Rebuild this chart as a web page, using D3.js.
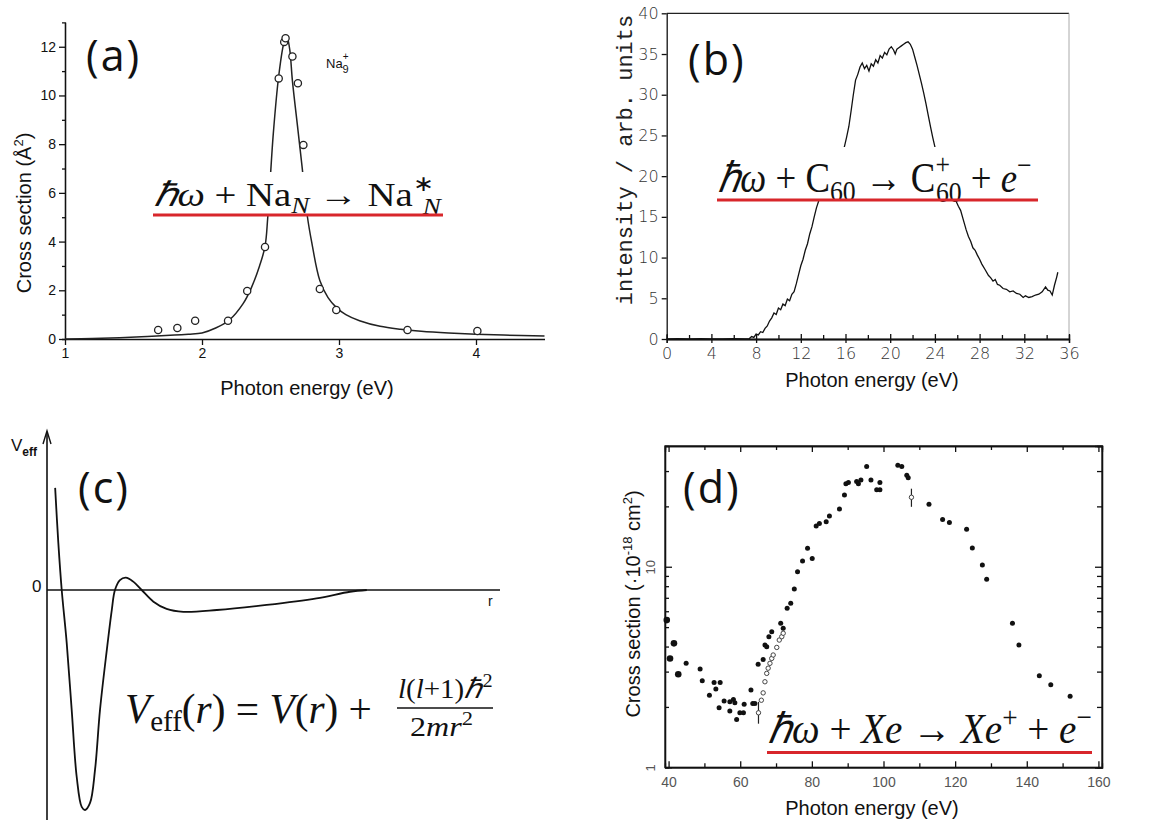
<!DOCTYPE html>
<html>
<head>
<meta charset="utf-8">
<script src="https://cdn.jsdelivr.net/npm/d3@7"></script>
<style>
  body { margin: 0; background: #fff; }
  svg { display: block; }
</style>
</head>
<body>
<div id="chart"></div>
<script>
/* global d3 */

// ---- data ----
// (a) Na cluster photoabsorption
const aCurveE = [1.0, 1.2, 1.4, 1.6, 1.8, 1.9, 2.0, 2.1, 2.2, 2.3, 2.36, 2.42, 2.46, 2.48, 2.52, 2.56, 2.60, 2.62, 2.64, 2.66, 2.70, 2.73, 2.77, 2.80, 2.86, 2.92, 2.98, 3.05, 3.15, 3.3, 3.45, 3.6, 3.8, 4.0, 4.2, 4.5]
const aCurveV = [0, 0.02, 0.05, 0.1, 0.16, 0.2, 0.25, 0.45, 0.78, 1.45, 2.1, 3.0, 3.8, 5.0, 8.4, 10.8, 12.2, 12.4, 11.9, 10.6, 8.6, 7.1, 5.0, 4.0, 2.4, 1.7, 1.3, 1.0, 0.75, 0.52, 0.4, 0.32, 0.25, 0.2, 0.16, 0.12]
const aPointE = [1.68, 1.82, 1.95, 2.19, 2.33, 2.46, 2.56, 2.60, 2.61, 2.66, 2.70, 2.74, 2.86, 2.98, 3.50, 4.01]
const aPointV = [0.37, 0.45, 0.75, 0.75, 1.97, 3.78, 10.7, 12.2, 12.35, 11.6, 10.5, 7.97, 2.05, 1.19, 0.37, 0.33]
const aTicksX = [1, 2, 3, 4]
const aTicksY = [0, 2, 4, 6, 8, 10, 12]
const aMinorY = [1, 3, 5, 7, 9, 11]

// (b) C60 photoionisation
const bE = [0, 1, 2, 3, 4, 5, 6, 7, 7.4, 7.6, 7.8, 8.0, 8.2, 8.4, 8.6, 8.8, 9.0, 9.2, 9.4, 9.6, 9.8, 10.0, 10.2, 10.4, 10.6, 10.8, 11.0, 11.2, 11.4, 11.6, 11.8, 12.0, 12.2, 12.4, 12.6, 12.8, 13.0, 13.2, 13.4, 13.8, 14.3, 14.8, 15.4, 15.9, 16.1, 16.3, 16.5, 16.7, 16.9, 17.1, 17.3, 17.5, 17.7, 17.9, 18.1, 18.3, 18.5, 18.7, 18.9, 19.1, 19.3, 19.5, 19.7, 19.9, 20.1, 20.3, 20.45, 20.6, 20.8, 21.0, 21.2, 21.4, 21.6, 21.8, 22.0, 22.2, 22.4, 22.6, 22.8, 23.0, 23.2, 23.4, 23.6, 23.8, 24.0, 24.5, 25.0, 25.6, 26.1, 26.3, 26.55, 26.8, 27.0, 27.2, 27.4, 27.6, 27.8, 28.0, 28.2, 28.5, 28.8, 29.0, 29.2, 29.4, 29.6, 29.8, 30.1, 30.4, 30.7, 31.0, 31.3, 31.6, 31.9, 32.1, 32.4, 32.7, 33.0, 33.3, 33.6, 33.9, 34.1, 34.3, 34.5, 34.7, 34.9, 35.0]
const bI = [0, 0.05, 0, 0.05, 0, 0, 0.05, 0, 0.05, 0.3, 0.2, 0.6, 0.5, 0.9, 0.8, 1.3, 1.6, 2.2, 2.6, 3.2, 3.0, 3.8, 3.6, 4.3, 4.1, 4.9, 4.7, 5.5, 5.8, 6.8, 7.9, 9.0, 9.8, 10.9, 11.7, 12.9, 13.8, 15.0, 16.1, 17.8, 19.5, 21.0, 22.3, 23.6, 24.8, 26.1, 28.0, 30.0, 31.8, 32.5, 33.4, 33.9, 33.2, 33.6, 32.9, 33.8, 33.5, 34.3, 33.9, 34.8, 34.5, 35.2, 34.9, 35.6, 35.9, 35.5, 35.0, 35.6, 35.8, 36.0, 36.2, 36.4, 36.5, 36.2, 35.6, 34.6, 33.6, 32.5, 31.4, 30.2, 28.9, 27.5, 26.1, 24.8, 23.6, 21.6, 19.7, 17.8, 16.3, 15.8, 14.6, 13.4, 12.6, 12.0, 11.2, 10.9, 10.3, 9.8, 9.2, 8.5, 7.8, 7.5, 7.1, 7.3, 6.7, 6.6, 6.2, 6.1, 5.8, 5.9, 5.6, 5.5, 5.1, 5.3, 5.1, 5.2, 5.4, 5.5, 5.8, 6.4, 6.0, 5.9, 5.4, 6.6, 7.6, 8.2]
const bTicksX = [0, 4, 8, 12, 16, 20, 24, 28, 32, 36]
const bMinorX = [2, 6, 10, 14, 18, 22, 26, 30, 34]
const bTicksY = [0, 5, 10, 15, 20, 25, 30, 35, 40]

// (c) effective potential (arbitrary units)
const cR = [1.8, 2.5, 3.25, 4.35, 5.45, 6.56, 7.66, 8.4, 9.5, 10.6, 11.7, 13.2, 14.3, 15.0, 16.1, 17.4, 19.05, 20.9, 23.5, 26.4, 30.1, 37.5, 48.5, 59.5, 66.9, 70.6]
const cV = [46.4, 21.4, 0, -24, -54.5, -85, -98.6, -100, -96.8, -81.8, -54.5, -27.3, -9.1, 0, 4.5, 5.6, 3.8, 0, -5.3, -8.6, -9.9, -9.1, -6.8, -3.8, -0.8, 0]

// (d) Xe 4d photoionisation, filled points
const dE = [39.5, 40.4, 41.5, 42.7, 44.9, 48.8, 49.4, 51.4, 52.7, 53.2, 54.4, 54.1, 55.5, 57.1, 57.1, 58.1, 58.5, 59.0, 59.9, 60.9, 61.1, 63.0, 63.5, 64.1, 65.0, 66.4, 66.9, 67.4, 68.0, 68.8, 71.3, 72.0, 73.1, 74.1, 75.1, 76.0, 77.4, 78.8, 80.1, 81.2, 82.1, 84.0, 84.9, 87.7, 89.1, 89.5, 90.2, 92.5, 93.0, 93.7, 95.3, 96.5, 98.1, 99.0, 99.0, 104.0, 105.1, 106.5, 106.9, 112.7, 116.5, 118.4, 123.2, 124.8, 127.6, 128.8, 136.0, 137.8, 143.5, 146.7, 152.1]
const dS = [5.42, 3.49, 4.15, 2.91, 3.30, 3.09, 2.70, 2.29, 2.65, 2.46, 2.65, 1.98, 2.14, 1.91, 2.12, 2.18, 2.10, 1.73, 1.87, 1.87, 2.06, 2.43, 2.08, 2.08, 3.26, 3.45, 4.07, 3.99, 4.48, 4.74, 5.22, 4.93, 6.21, 6.58, 7.75, 9.44, 10.67, 12.35, 11.0, 15.96, 16.45, 16.76, 17.9, 19.4, 22.8, 25.9, 26.3, 26.6, 25.9, 27.1, 31.6, 27.1, 24.2, 26.3, 24.2, 32.1, 31.6, 28.6, 27.8, 20.5, 17.2, 16.6, 15.4, 12.4, 10.2, 8.66, 5.22, 4.07, 2.86, 2.58, 2.26]
// open points
const dOpenE = [65.1, 65.9, 66.4, 66.9, 67.4, 67.8, 68.3, 68.8, 69.2, 70.2, 70.9, 71.6, 72.0, 107.8]
const dOpenS = [1.87, 2.16, 2.35, 2.67, 2.94, 3.12, 3.30, 3.49, 3.63, 3.96, 4.31, 4.48, 4.66, 22.2]
// error bars
const dErrE = [65.1, 107.8]
const dErrLo = [1.65, 19.9]
const dErrHi = [2.12, 24.5]
const dTicksX = [40, 60, 80, 100, 120, 140, 160]
const dMinorX = [50, 70, 90, 110, 130, 150]
const dTicksY = [1, 10]
const dMinorY = [2, 3, 4, 5, 6, 7, 8, 9, 20, 30]

// ---- canvas ----
const width = 1172,
  height = 827
const sans = 'Liberation Sans, Arial, sans-serif'
const serif = '"Liberation Serif", "Times New Roman", Times, serif'
const red = '#d8262b'

let svg = d3.select('#chart')
  .append('svg')
  .attr('width', width)
  .attr('height', height)
  .style('background', '#fff')

// formula text squeezed to fit between x0 and x1
let formula = (g, parts, x0, x1, baseline, size) => {
  const t = g.append('text')
    .style('font-family', serif)
    .attr('font-size', size)
    .attr('fill', '#111')
  parts.forEach(p => {
    t.append('tspan')
      .text(p.t)
      .attr('font-style', p.i ? 'italic' : null)
      .attr('font-size', p.s ? size * p.s : null)
      .attr('dx', p.dx || null)
      .attr('dy', p.dy || null)
  })
  const bb = t.node().getBBox()
  const sx = (x1 - x0) / bb.width
  t.attr('transform', `translate(${x0 - bb.x * sx},${baseline}) scale(${sx},1)`)
  return t
}

let styleAxis = (g, size, color) => {
  g.selectAll('text')
    .attr('font-family', sans)
    .attr('font-size', size)
    .attr('fill', color)
  g.selectAll('line, path').attr('stroke', '#111').attr('stroke-width', 1.3)
}

let panelLabel = (txt, x, y) => {
  svg.append('text')
    .attr('x', x).attr('y', y)
    .attr('font-family', 'Open Sans, sans-serif')
    .attr('font-size', 43)
    .attr('letter-spacing', 2)
    .attr('fill', '#111')
    .text(txt)
}

// ---------- (a) ----------
const aX = d3.scaleLinear().domain([1, 4.5]).range([65, 544.5])
const aY = d3.scaleLinear().domain([0, 13]).range([339, 22.4])
const ga = svg.append('g')

ga.append('g')
  .attr('transform', `translate(0,${aY(0)})`)
  .call(d3.axisBottom(aX).tickValues(aTicksX).tickSize(6).tickSizeOuter(0).tickFormat(d3.format('d')))
  .call(g => styleAxis(g, 14, '#111'))
ga.append('g')
  .attr('transform', `translate(${aX(1)},0)`)
  .call(d3.axisLeft(aY).tickValues(aTicksY).tickSize(6).tickSizeOuter(0))
  .call(g => styleAxis(g, 14, '#111'))
ga.append('g')
  .attr('transform', `translate(${aX(1)},0)`)
  .call(d3.axisLeft(aY).tickValues(aMinorY).tickSize(3).tickFormat(''))
  .call(g => styleAxis(g, 14, '#111'))

ga.append('path')
  .datum(aCurveE.map((e, i) => [e, aCurveV[i]]))
  .attr('fill', 'none')
  .attr('stroke', '#222')
  .attr('stroke-width', 1.5)
  .attr('d', d3.line().x(d => aX(d[0])).y(d => aY(d[1])).curve(d3.curveCatmullRom))

ga.selectAll('circle')
  .data(aPointE)
  .enter()
  .append('circle')
  .attr('cx', d => aX(d))
  .attr('cy', (d, i) => aY(aPointV[i]))
  .attr('r', 3.6)
  .attr('fill', '#fff')
  .attr('stroke', '#222')
  .attr('stroke-width', 1.3)

ga.append('text')
  .attr('transform', 'translate(31,213) rotate(-90)')
  .attr('text-anchor', 'middle')
  .attr('font-family', sans).attr('font-size', 20).attr('fill', '#111')
  .call(t => {
    t.append('tspan').text('Cross section (Å')
    t.append('tspan').text('2').attr('font-size', 13).attr('dy', -8)
    t.append('tspan').text(')').attr('dy', 8)
  })
ga.append('text')
  .attr('x', 307).attr('y', 395)
  .attr('text-anchor', 'middle')
  .attr('font-family', sans).attr('font-size', 20).attr('fill', '#111')
  .text('Photon energy (eV)')

ga.append('text')
  .attr('x', 326).attr('y', 68)
  .attr('font-family', sans).attr('font-size', 13).attr('fill', '#111')
  .call(t => {
    t.append('tspan').text('Na')
    t.append('tspan').text('+').attr('font-size', 10).attr('dy', -8)
    t.append('tspan').text('9').attr('font-size', 11).attr('dx', -6).attr('dy', 13)
  })

ga.append('rect').attr('x', 150).attr('y', 172).attr('width', 296).attr('height', 42).attr('fill', '#fff')
formula(ga, [
  { t: 'ℏω', i: 1 }, { t: ' + ' }, { t: 'Na' },
  { t: 'N', i: 1, s: 0.7, dy: 7 }, { t: ' → ', dy: -7 }, { t: 'Na' },
  { t: '∗', s: 0.65, dy: -15 }, { t: 'N', i: 1, s: 0.7, dx: -10, dy: 23 }
], 154, 442, 206, 34)
ga.append('line')
  .attr('x1', 153).attr('x2', 443).attr('y1', 215).attr('y2', 215)
  .attr('stroke', red).attr('stroke-width', 3)
panelLabel('(a)', 86, 71)

// ---------- (b) ----------
const bX = d3.scaleLinear().domain([0, 36]).range([666.7, 1069])
const bY = d3.scaleLinear().domain([0, 40]).range([339, 13.3])
const gb = svg.append('g')

gb.append('line')
  .attr('x1', bX(0)).attr('x2', bX(36)).attr('y1', bY(40)).attr('y2', bY(40))
  .attr('stroke', '#222').attr('stroke-width', 1.3)
gb.append('line')
  .attr('x1', bX(36)).attr('x2', bX(36)).attr('y1', bY(40)).attr('y2', bY(0))
  .attr('stroke', '#aaa').attr('stroke-width', 1)
gb.append('g')
  .attr('transform', `translate(0,${bY(0)})`)
  .call(d3.axisBottom(bX).tickValues(bTicksX).tickSizeInner(-5).tickSizeOuter(0).tickPadding(9))
  .call(g => styleAxis(g, 16, '#333'))
  .call(g => g.selectAll('text').attr('font-family', 'DejaVu Sans, sans-serif').attr('font-weight', 200))
gb.append('g')
  .attr('transform', `translate(0,${bY(0)})`)
  .call(d3.axisBottom(bX).tickValues(bTicksX).tickSize(4).tickFormat(''))
  .call(g => styleAxis(g, 14, '#333'))
gb.append('g')
  .attr('transform', `translate(0,${bY(0)})`)
  .call(d3.axisBottom(bX).tickValues(bMinorX).tickSize(-4).tickFormat(''))
  .call(g => styleAxis(g, 14, '#333'))
gb.append('g')
  .attr('transform', `translate(${bX(0)},0)`)
  .call(d3.axisLeft(bY).tickValues(bTicksY).tickSize(5).tickSizeOuter(0))
  .call(g => styleAxis(g, 16, '#333'))
  .call(g => g.selectAll('text').attr('font-family', 'DejaVu Sans, sans-serif').attr('font-weight', 200))

gb.append('path')
  .datum(bE.map((e, i) => [e, bI[i]]))
  .attr('fill', 'none')
  .attr('stroke', '#111')
  .attr('stroke-width', 1.3)
  .attr('d', d3.line().x(d => bX(d[0])).y(d => bY(d[1])))

gb.append('text')
  .attr('transform', 'translate(632,160) rotate(-90)')
  .attr('text-anchor', 'middle')
  .attr('font-family', 'Liberation Mono, monospace').attr('font-size', 22).attr('fill', '#222')
  .text('intensity / arb. units')
gb.append('text')
  .attr('x', 872).attr('y', 387)
  .attr('text-anchor', 'middle')
  .attr('font-family', sans).attr('font-size', 20).attr('fill', '#111')
  .text('Photon energy (eV)')

gb.append('rect').attr('x', 714).attr('y', 147).attr('width', 328).attr('height', 53).attr('fill', '#fff')
formula(gb, [
  { t: 'ℏω', i: 1 }, { t: ' + ' }, { t: 'C' },
  { t: '60', s: 0.7, dy: 9 }, { t: ' → ', dy: -9 }, { t: 'C' },
  { t: '+', s: 0.7, dy: -18 }, { t: '60', s: 0.7, dx: -16, dy: 28 },
  { t: ' + ', dy: -10 }, { t: 'e', i: 1 }, { t: '−', s: 0.7, dy: -17 }
], 718, 1032, 192, 42)
gb.append('line')
  .attr('x1', 717).attr('x2', 1038).attr('y1', 200).attr('y2', 200)
  .attr('stroke', red).attr('stroke-width', 3)
panelLabel('(b)', 688, 75)

// ---------- (c) ----------
const cX = d3.scaleLinear().domain([0, 100]).range([47, 500])
const cY = d3.scaleLinear().domain([-100, 0]).range([810, 590])
const gc = svg.append('g')

gc.append('line')
  .attr('x1', cX(0)).attr('x2', cX(0)).attr('y1', 820).attr('y2', 432)
  .attr('stroke', '#111').attr('stroke-width', 1.6)
gc.append('path')
  .attr('d', `M${cX(0) - 4},444 L${cX(0)},431 L${cX(0) + 4},444`)
  .attr('fill', 'none').attr('stroke', '#111').attr('stroke-width', 1.4)
gc.append('line')
  .attr('x1', cX(0)).attr('x2', cX(100)).attr('y1', cY(0)).attr('y2', cY(0))
  .attr('stroke', '#111').attr('stroke-width', 1.6)

gc.append('path')
  .datum(cR.map((r, i) => [r, cV[i]]))
  .attr('fill', 'none')
  .attr('stroke', '#111')
  .attr('stroke-width', 1.8)
  .attr('d', d3.line().x(d => cX(d[0])).y(d => cY(d[1])).curve(d3.curveCatmullRom))

gc.append('text')
  .attr('x', 11).attr('y', 451)
  .attr('font-family', sans).attr('font-size', 17).attr('fill', '#111')
  .call(t => {
    t.append('tspan').text('V')
    t.append('tspan').text('eff').attr('font-size', 12).attr('font-weight', 'bold').attr('dy', 5)
  })
gc.append('text')
  .attr('x', 32).attr('y', 592)
  .attr('font-family', sans).attr('font-size', 17).attr('fill', '#111')
  .text('0')
gc.append('text')
  .attr('x', 488).attr('y', 606)
  .attr('font-family', sans).attr('font-size', 14).attr('fill', '#111')
  .text('r')

formula(gc, [
  { t: 'V', i: 1 }, { t: 'eff', s: 0.7, dy: 8 }, { t: '(', dy: -8 }, { t: 'r', i: 1 },
  { t: ') = ' }, { t: 'V', i: 1 }, { t: '(' }, { t: 'r', i: 1 }, { t: ') +' }
], 125, 372, 723, 43)
formula(gc, [
  { t: 'l', i: 1 }, { t: '(' }, { t: 'l', i: 1 }, { t: '+1)' }, { t: 'ℏ', i: 1 },
  { t: '2', s: 0.7, dy: -11 }
], 398, 492, 698, 28)
formula(gc, [
  { t: '2' }, { t: 'mr', i: 1 }, { t: '2', s: 0.7, dy: -11 }
], 410, 473, 736, 28)
gc.append('line')
  .attr('x1', 397).attr('x2', 493).attr('y1', 708).attr('y2', 708)
  .attr('stroke', '#111').attr('stroke-width', 1.5)
panelLabel('(c)', 78, 503)

// ---------- (d) ----------
const dX = d3.scaleLinear().domain([39, 161]).range([665, 1102])
const dY = d3.scaleLog().domain([1, 40]).range([767.3, 446])
const gd = svg.append('g')

gd.append('rect')
  .attr('x', dX(39)).attr('y', dY(40))
  .attr('width', dX(161) - dX(39)).attr('height', dY(1) - dY(40))
  .attr('fill', 'none').attr('stroke', '#222').attr('stroke-width', 1.3)

gd.append('g')
  .attr('transform', `translate(0,${dY(1)})`)
  .call(d3.axisBottom(dX).tickValues(dTicksX).tickSizeInner(-6).tickSizeOuter(0).tickPadding(10))
  .call(g => styleAxis(g, 14, '#555'))
gd.append('g')
  .attr('transform', `translate(0,${dY(1)})`)
  .call(d3.axisBottom(dX).tickValues(dMinorX).tickSize(-4).tickFormat(''))
  .call(g => styleAxis(g, 14, '#555'))
gd.append('g')
  .attr('transform', `translate(0,${dY(40)})`)
  .call(d3.axisTop(dX).tickValues(dTicksX).tickSize(-6).tickFormat(''))
  .call(g => styleAxis(g, 14, '#555'))
gd.append('g')
  .attr('transform', `translate(0,${dY(40)})`)
  .call(d3.axisTop(dX).tickValues(dMinorX).tickSize(-4).tickFormat(''))
  .call(g => styleAxis(g, 14, '#555'))
gd.append('g')
  .attr('transform', `translate(${dX(39)},0)`)
  .call(d3.axisLeft(dY).tickValues(dTicksY).tickSize(-7).tickSizeOuter(0).tickPadding(6).tickFormat(d3.format('d')))
  .call(g => styleAxis(g, 13, '#555'))
  .call(g => g.selectAll('.tick text').attr('transform', 'rotate(-90)').attr('text-anchor', 'middle').attr('x', 0).attr('y', -10).attr('dy', 0))
gd.append('g')
  .attr('transform', `translate(${dX(39)},0)`)
  .call(d3.axisLeft(dY).tickValues(dMinorY).tickSize(-4).tickFormat(''))
  .call(g => styleAxis(g, 13, '#555'))
gd.append('g')
  .attr('transform', `translate(${dX(161)},0)`)
  .call(d3.axisRight(dY).tickValues(dTicksY).tickSize(-7).tickFormat(''))
  .call(g => styleAxis(g, 13, '#555'))
gd.append('g')
  .attr('transform', `translate(${dX(161)},0)`)
  .call(d3.axisRight(dY).tickValues(dMinorY).tickSize(-5).tickFormat(''))
  .call(g => styleAxis(g, 13, '#555'))

gd.selectAll('line.err')
  .data(dErrE)
  .enter()
  .append('line')
  .attr('class', 'err')
  .attr('x1', d => dX(d)).attr('x2', d => dX(d))
  .attr('y1', (d, i) => dY(dErrLo[i])).attr('y2', (d, i) => dY(dErrHi[i]))
  .attr('stroke', '#222').attr('stroke-width', 1.2)
gd.selectAll('circle.open')
  .data(dOpenE)
  .enter()
  .append('circle')
  .attr('class', 'open')
  .attr('cx', d => dX(d))
  .attr('cy', (d, i) => dY(dOpenS[i]))
  .attr('r', 2.2)
  .attr('fill', '#fff')
  .attr('stroke', '#444')
  .attr('stroke-width', 1)
gd.selectAll('circle.fill')
  .data(dE)
  .enter()
  .append('circle')
  .attr('class', 'fill')
  .attr('cx', d => dX(d))
  .attr('cy', (d, i) => dY(dS[i]))
  .attr('r', d => d < 44 ? 3.3 : 2.5)
  .attr('fill', '#111')

gd.append('text')
  .attr('transform', 'translate(640,604) rotate(-90)')
  .attr('text-anchor', 'middle')
  .attr('font-family', sans).attr('font-size', 20).attr('fill', '#111')
  .call(t => {
    t.append('tspan').text('Cross section (·10')
    t.append('tspan').text('-18').attr('font-size', 13).attr('dy', -8)
    t.append('tspan').text(' cm').attr('dy', 8)
    t.append('tspan').text('2').attr('font-size', 13).attr('dy', -8)
    t.append('tspan').text(')').attr('dy', 8)
  })
gd.append('text')
  .attr('x', 872).attr('y', 815)
  .attr('text-anchor', 'middle')
  .attr('font-family', sans).attr('font-size', 20).attr('fill', '#111')
  .text('Photon energy (eV)')

formula(gd, [
  { t: 'ℏω', i: 1 }, { t: ' + ' }, { t: 'Xe', i: 1 }, { t: ' → ' }, { t: 'Xe', i: 1 },
  { t: '+', s: 0.7, dy: -16 }, { t: ' + ', dy: 16 }, { t: 'e', i: 1 }, { t: '−', s: 0.7, dy: -16 }
], 768, 1092, 743, 42)
gd.append('line')
  .attr('x1', 767).attr('x2', 1092).attr('y1', 752.5).attr('y2', 752.5)
  .attr('stroke', red).attr('stroke-width', 3)
panelLabel('(d)', 683, 503)
</script>
</body>
</html>
